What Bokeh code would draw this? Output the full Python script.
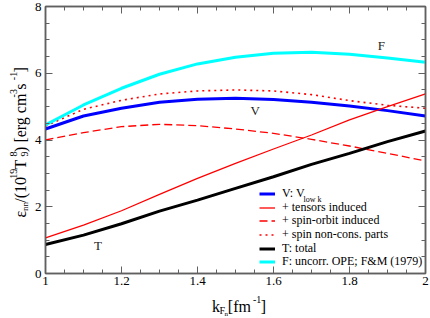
from math import pi
from bokeh.plotting import figure
from bokeh.layouts import row, column
from bokeh.models import Range1d, FixedTicker, LinearAxis, Label, Legend, LegendItem
from bokeh.embed import file_html
from bokeh.resources import INLINE

# ---- data ----
kf = [1.0, 1.1, 1.2, 1.3, 1.4, 1.5, 1.6, 1.7, 1.8, 1.9, 2.0]
v_lowk = [4.33, 4.72, 4.95, 5.13, 5.22, 5.25, 5.21, 5.13, 5.02, 4.88, 4.72]
tensors = [1.07, 1.45, 1.88, 2.37, 2.85, 3.30, 3.73, 4.15, 4.60, 5.00, 5.38]
spin_orbit = [4.00, 4.22, 4.40, 4.47, 4.43, 4.33, 4.20, 4.02, 3.82, 3.60, 3.37]
spin_noncons = [4.42, 4.92, 5.19, 5.38, 5.47, 5.50, 5.47, 5.36, 5.18, 5.04, 4.95]
total = [0.87, 1.15, 1.49, 1.87, 2.20, 2.55, 2.90, 3.27, 3.60, 3.95, 4.27]
uncorr_ope = [4.45, 5.05, 5.55, 5.97, 6.28, 6.48, 6.60, 6.63, 6.57, 6.46, 6.33]

x_ticks = [1.0, 1.2, 1.4, 1.6, 1.8, 2.0]
x_tick_labels = ["1", "1.2", "1.4", "1.6", "1.8", "2"]
x_minor = [1.05, 1.1, 1.15, 1.25, 1.3, 1.35, 1.45, 1.5, 1.55, 1.65, 1.7, 1.75,
           1.85, 1.9, 1.95]
y_ticks = [0, 2, 4, 6, 8]
y_tick_labels = ["0", "2", "4", "6", "8"]
y_minor = [0.5, 1, 1.5, 2.5, 3, 3.5, 4.5, 5, 5.5, 6.5, 7, 7.5]

legend_labels = ["V: V", "+ tensors induced", "+ spin-orbit induced",
                 "+ spin non-cons. parts", "T: total", "F: uncorr. OPE; F&M (1979)"]

FONT = "Liberation Serif"
FRAME = "#606060"

LEFT_W = 31          # strip holding the y-axis title
BOTTOM_H = 26        # strip holding the x-axis title
MAIN_W = 430 - LEFT_W
MAIN_H = 318 - BOTTOM_H

p = figure(width=MAIN_W, height=MAIN_H, output_backend="svg", toolbar_location=None,
           x_range=Range1d(1, 2), y_range=Range1d(0, 8),
           min_border_left=43 - LEFT_W, min_border_right=5, min_border_top=6,
           min_border_bottom=MAIN_H - 273)
p.xgrid.visible = False
p.ygrid.visible = False
p.outline_line_color = FRAME
p.outline_line_width = 1.5
p.background_fill_color = "white"
p.border_fill_color = "white"

xt = FixedTicker(ticks=x_ticks, minor_ticks=x_minor)
yt = FixedTicker(ticks=y_ticks, minor_ticks=y_minor)


def style_axis(ax, show_labels, standoff):
    ax.axis_line_color = FRAME
    ax.axis_line_width = 1.5
    ax.major_tick_line_color = FRAME
    ax.minor_tick_line_color = FRAME
    ax.major_tick_in = 7
    ax.major_tick_out = 0
    ax.minor_tick_in = 4
    ax.minor_tick_out = 0
    ax.major_label_standoff = standoff
    if show_labels:
        ax.major_label_text_font = FONT
        ax.major_label_text_font_size = "13px"
        ax.major_label_text_color = "black"
    else:
        ax.major_label_text_font_size = "0px"
        ax.major_label_text_alpha = 0


p.xaxis.ticker = xt
p.yaxis.ticker = yt
p.xaxis.major_label_overrides = {v: s for v, s in zip(x_ticks, x_tick_labels)}
p.yaxis.major_label_overrides = {v: s for v, s in zip(y_ticks, y_tick_labels)}
style_axis(p.xaxis[0], True, 3)
style_axis(p.yaxis[0], True, 4)

top = LinearAxis(ticker=xt)
right = LinearAxis(ticker=yt)
style_axis(top, False, 0)
style_axis(right, False, 0)
p.add_layout(top, "above")
p.add_layout(right, "right")

# ---- curves ----
r_v = p.line(kf, v_lowk, line_color="#0000ff", line_width=3)
r_t = p.line(kf, tensors, line_color="#ff0000", line_width=1.3)
r_so = p.line(kf, spin_orbit, line_color="#ff0000", line_width=1.3, line_dash="8 4")
r_nc = p.line(kf, spin_noncons, line_color="#ff0000", line_width=1.6, line_dash="2 4")
r_tot = p.line(kf, total, line_color="black", line_width=3)
r_f = p.line(kf, uncorr_ope, line_color="#00ffff", line_width=3)

# ---- curve tags ----
for txt, x, y in [("F", 1.884, 6.84), ("V", 1.552, 4.87), ("T", 1.138, 0.84)]:
    p.add_layout(Label(x=x, y=y, text=txt, text_font=FONT, text_font_size="13px",
                       text_color="#222222", text_align="center", text_baseline="middle"))

# ---- legend: one entry per Legend so that the row pitch is exact ----
LEG_X = 214
ROW_Y = [72, 58, 45, 31, 17, 4]
for lab, r, ry in zip(legend_labels, [r_v, r_t, r_so, r_nc, r_tot, r_f], ROW_Y):
    leg = Legend(items=[LegendItem(label=lab, renderers=[r])], location=(LEG_X, ry),
                 label_text_font=FONT, label_text_font_size="12px",
                 label_text_color="black", glyph_width=16, glyph_height=13,
                 label_height=13, label_standoff=7, spacing=0, padding=0, margin=0,
                 border_line_color=None, background_fill_alpha=0)
    p.add_layout(leg)

# ---- texts built from runs (sub/superscripts) ----
W = {' ': 250, '(': 333, ')': 333, '[': 333, ']': 333, '/': 278, '-': 333, '.': 250,
     ':': 278, 'a': 444, 'c': 444, 'e': 444, 'f': 333, 'g': 500, 'k': 500, 'l': 278,
     'm': 778, 'n': 500, 'o': 500, 'r': 333, 's': 389, 'w': 722, 'T': 611, 'F': 556,
     'V': 722, 'ε': 439}


def tw(t, s):
    return sum(W.get(c, 500) for c in t) * s / 1000.0 * 0.93


def add_runs(fig, runs, ax, ay, base, vertical, start=None):
    total_w = sum(tw(t, s) for t, s, sh, adv in runs if adv)
    pos = -total_w / 2 if start is None else start
    for t, s, sh, adv in runs:
        kw = dict(x=ax, y=ay, text=t, text_font=FONT, text_font_size=f"{s}px",
                  text_color="black", text_align="left", text_baseline="alphabetic")
        if vertical:
            lab = Label(x_offset=base - sh, y_offset=pos, angle=pi / 2, **kw)
        else:
            lab = Label(x_offset=pos, y_offset=base + sh, **kw)
        fig.add_layout(lab)
        if adv:
            pos += tw(t, s)


# subscript of the legend's first entry
add_runs(p, [("low k", 8, 0, True)], 1.0, 0.0, 74, False, start=LEG_X + 16 + 7 + 21)


def text_strip(w, h):
    f = figure(width=w, height=h, output_backend="svg", toolbar_location=None,
               x_range=Range1d(0, w), y_range=Range1d(0, h), min_border=0,
               x_axis_type=None, y_axis_type=None)
    f.outline_line_color = None
    f.xgrid.visible = False
    f.ygrid.visible = False
    return f


left_strip = text_strip(LEFT_W, 318)
bottom_strip = text_strip(MAIN_W, BOTTOM_H)

y_runs = [("ε", 16, 0, True), ("nn", 9, -4, True), ("/(10", 16, 0, True),
          ("19", 10, 7, True), (" T", 16, 0, True), ("9", 10, -4, False),
          ("8", 10, 7, True), (") [erg cm", 16, 0, True), ("-3", 10, 7, True),
          (" s", 16, 0, True), ("-1", 10, 7, True), ("]", 16, 0, True)]
add_runs(left_strip, y_runs, 0, 318 - 142, 20, True)

x_runs = [("k", 16, 0, True), ("F", 10, -4, True), ("n", 7, -7, True),
          (" [fm", 16, 0, True), ("-1", 10, 7, True), ("]", 16, 0, True)]
add_runs(bottom_strip, x_runs, 234 - LEFT_W, BOTTOM_H - (306 - MAIN_H), 0, False)

layout = row(left_strip, column(p, bottom_strip))
open("out.html", "w").write(file_html(layout, INLINE))
